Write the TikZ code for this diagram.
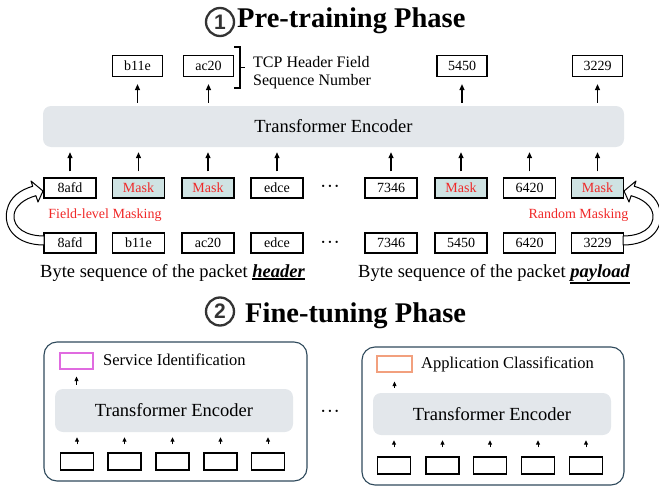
\documentclass[tikz,border=0pt]{standalone}
\usepackage{fontspec}
\setmainfont{Liberation Serif}
\newfontfamily\numfont{Liberation Sans}
\usetikzlibrary{arrows.meta}
\definecolor{encfill}{HTML}{E3E7EB}
\definecolor{maskfill}{HTML}{CFE3E3}
\definecolor{maskred}{RGB}{240,40,40}
\definecolor{panelc}{HTML}{2F4A5C}
\definecolor{magbox}{HTML}{E06BE0}
\definecolor{orgbox}{HTML}{F2A07E}
\definecolor{numgray}{HTML}{333333}
\newcommand{\thickul}[1]{\leavevmode\vtop{\hbox{#1}\kern1.2pt\hrule height 1.6pt}}
\begin{document}
\begin{tikzpicture}[x=1pt,y=-1pt,
  tok/.style={draw, line width=1.2pt, minimum width=52pt, minimum height=20pt, inner sep=0pt, font=\fontsize{14}{15}\selectfont},
  masktok/.style={tok, fill=maskfill, text=maskred},
  enc/.style={fill=encfill, rounded corners=8pt, inner sep=0pt, font=\fontsize{18.5}{20}\selectfont},
  up/.style={-{Triangle[length=6pt,width=5pt]}, line width=1.3pt},
  upsmall/.style={-{Triangle[length=4.5pt,width=4pt]}, line width=1pt},
  panel/.style={draw=panelc, line width=1.1pt, rounded corners=13pt},
  cell/.style={draw, line width=1.2pt, minimum width=33pt, minimum height=17pt, inner sep=0pt},
  redlab/.style={text=maskred, font=\fontsize{14}{16}\selectfont},
  hollow/.style={draw, fill=white, line width=1pt, line join=round},
  numc/.style={circle, draw=numgray, line width=2.3pt, minimum size=28pt, inner sep=0pt, text=numgray, font=\numfont\bfseries\fontsize{21}{24}\selectfont},
  title/.style={anchor=base west, inner sep=0pt, font=\fontsize{28.5}{30}\selectfont\bfseries},
  note/.style={anchor=base west, inner sep=0pt, font=\fontsize{16}{18}\selectfont},
  seqlab/.style={anchor=base west, inner sep=0pt, font=\fontsize{18.5}{20}\selectfont},
  dotsn/.style={inner sep=0pt, font=\fontsize{9.5}{9.5}\selectfont},
]
\useasboundingbox (0,0) rectangle (659,487);

% ---------- Phase 1 title
\node[numc] (n1) at (220,22) {1};
\node[title] (t1) at (237,28) {Pre-training Phase};

% ---------- predicted tokens
\node[tok, minimum width=50pt, minimum height=21pt] (o1) at (137.5,66) {b11e};
\node[tok, minimum width=50pt, minimum height=21pt] (o2) at (208.5,66) {ac20};
\node[tok, minimum width=50pt, minimum height=21pt] (o3) at (462,66) {5450};
\node[tok, minimum width=50pt, minimum height=21pt] (o4) at (597.5,66) {3229};

% brace + note
\draw[line width=1.2pt] (234,47) -- (240,47) -- (240,88) -- (234,88);
\draw[line width=1.2pt] (240,67.5) -- (245,67.5);
\node[note] (tcp1) at (253,68) {TCP Header Field};
\node[note] (tcp2) at (253,85) {Sequence Number};

% encoder
\node[enc, minimum width=581pt, minimum height=41pt] (enc) at (333.5,126.5) {Transformer Encoder};

\foreach \n in {o1,o2,o3,o4}
  \draw[up, shorten <=3pt, shorten >=7pt] (enc.north -| \n) -- (\n.south);

% masked input row
\node[tok] (m1) at (70,188) {8afd};
\node[masktok] (m2) at (138.5,188) {Mask};
\node[masktok] (m3) at (208,188) {Mask};
\node[tok] (m4) at (277,188) {edce};
\node[tok] (m5) at (391,188) {7346};
\node[masktok] (m6) at (461,188) {Mask};
\node[tok] (m7) at (529.5,188) {6420};
\node[masktok] (m8) at (597.5,188) {Mask};

\foreach \n in {m1,m2,m3,m4,m5,m6,m7,m8}
  \draw[up, shorten <=6pt, shorten >=5pt] (\n.north) -- (enc.south -| \n);

% original row
\node[tok] (b1) at (70,243) {8afd};
\node[tok] (b2) at (138.5,243) {b11e};
\node[tok] (b3) at (208,243) {ac20};
\node[tok] (b4) at (277,243) {edce};
\node[tok] (b5) at (391,243) {7346};
\node[tok] (b6) at (461,243) {5450};
\node[tok] (b7) at (529.5,243) {6420};
\node[tok] (b8) at (597.5,243) {3229};

\node[dotsn] (d1) at (330,187) {•\hspace{3.4pt}•\hspace{3.4pt}•};
\node[dotsn] (d2) at (330,243) {•\hspace{3.4pt}•\hspace{3.4pt}•};

% masking labels
\node[redlab] (fl) at (105,215) {Field-level Masking};
\node[redlab] (rm) at (578.5,215) {Random Masking};

% hollow curved arrows
\draw[hollow] (44,245) .. controls (16,245) and (3,228) .. (7,210)
  .. controls (10,197) and (20,190) .. (32.75,186.25) -- (31,181) -- (43,191) -- (38,202) -- (35.9,195.7)
  .. controls (24,199) and (15,206) .. (14,215) .. controls (13,228) and (26,236) .. (44,236) -- cycle;
\draw[hollow] (623,245) .. controls (651,245) and (664,228) .. (660,210)
  .. controls (657,197) and (647,190) .. (634.25,186.25) -- (636,181) -- (624,191) -- (629,202) -- (631.1,195.7)
  .. controls (643,199) and (652,206) .. (653,215) .. controls (654,228) and (641,236) .. (623,236) -- cycle;

% sequence labels
\node[seqlab] (hl) at (40,277) {Byte sequence of the packet \thickul{\textbf{\textit{header}}}};
\node[seqlab] (pl) at (358,277) {Byte sequence of the packet \thickul{\textbf{\textit{payload}}}};

% ---------- Phase 2 title
\node[numc] (n2) at (220,311.5) {2};
\node[title] (t2) at (245,322) {Fine-tuning Phase};

% left panel
\node[panel, minimum width=263pt, minimum height=139pt] (p1) at (175.5,411.5) {};
\node[draw=magbox, line width=1.2pt, minimum width=33pt, minimum height=16pt, inner sep=0pt] (s1) at (76.5,361) {};
\node[note, anchor=west, font=\fontsize{16.5}{18}\selectfont] (s1t) at (103,360) {Service Identification};
\node[enc, minimum width=238pt, minimum height=43pt] (e1) at (174,410.5) {Transformer Encoder};
\draw[upsmall, shorten <=4pt, shorten >=7pt] (e1.north -| s1) -- (s1.south);
\foreach \i/\x in {1/77,2/124.5,3/172.5,4/220.5,5/268} {
  \node[cell] (l\i) at (\x,461.5) {};
  \draw[upsmall, shorten <=8pt, shorten >=5pt] (l\i.north) -- (e1.south -| l\i);
}

\node[dotsn] (d3) at (330,412) {•\hspace{3.4pt}•\hspace{3.4pt}•};

% right panel
\node[panel, minimum width=262pt, minimum height=138pt] (p2) at (493,416) {};
\node[draw=orgbox, line width=1.2pt, minimum width=35pt, minimum height=16pt, inner sep=0pt] (s2) at (394.5,364) {};
\node[note, anchor=west, font=\fontsize{16.5}{18}\selectfont] (s2t) at (421,364) {Application Classification};
\node[enc, minimum width=238pt, minimum height=42pt] (e2) at (492,414) {Transformer Encoder};
\draw[upsmall, shorten <=5pt, shorten >=9pt] (e2.north -| s2) -- (s2.south);
\foreach \i/\x in {1/394,2/442.5,3/490,4/538,5/586} {
  \node[cell] (r\i) at (\x,465.5) {};
  \draw[upsmall, shorten <=9pt, shorten >=5pt] (r\i.north) -- (e2.south -| r\i);
}
\end{tikzpicture}
\end{document}
